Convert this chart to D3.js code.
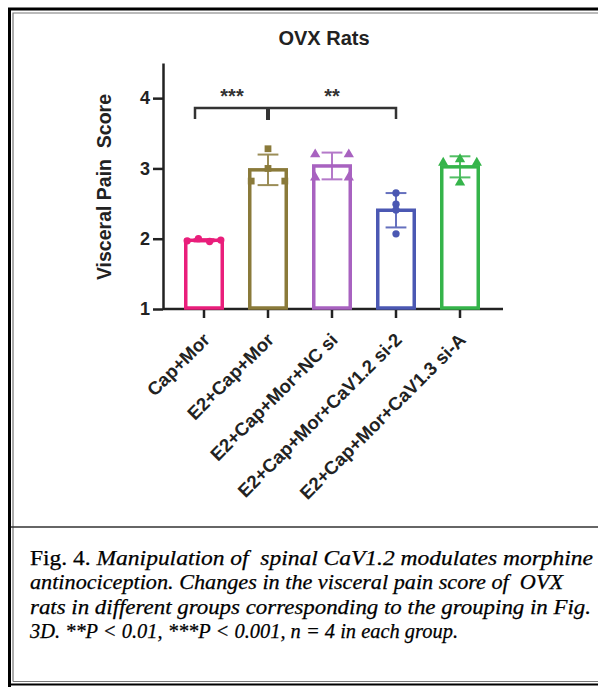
<!DOCTYPE html>
<html>
<head>
<meta charset="utf-8">
<script src="https://cdn.jsdelivr.net/npm/d3@7"></script>
<style>
  body { margin:0; background:#fff; }
  svg text { font-family: "Liberation Sans", Arial, sans-serif; }
  .cap { font-family: "Liberation Serif", "Times New Roman", serif !important; fill:#000; stroke:#000; stroke-width:0.25px; }
</style>
</head>
<body>
<div id="chart"></div>
<script>
// groups and per-animal scores (n = 4)
var groups = ["Cap+Mor","E2+Cap+Mor","E2+Cap+Mor+NC si","E2+Cap+Mor+CaV1.2 si-2","E2+Cap+Mor+CaV1.3 si-A"];
var capMor   = [1.97, 2.00, 1.96, 1.98];
var e2CapMor = [3.28, 3.00, 2.82, 2.82];
var ncSi     = [3.20, 3.20, 2.87, 2.87];
var cav12si  = [2.65, 2.49, 2.41, 2.07];
var cav13si  = [3.08, 3.13, 3.08, 2.80];
var yTicks = [1, 2, 3, 4];
var colors = ["#e91e7b","#8a7a3a","#a862c0","#4b58b3","#35b44a"];
var shapes = ["circle","square","triangle","circle","triangle"];
var sigs = [{from:0, to:1, label:"***"}, {from:1, to:3, label:"**"}];

var allData = [capMor, e2CapMor, ncSi, cav12si, cav13si];

var W = 598, H = 687;
var svg = d3.select('#chart').append('svg')
    .attr('width', W).attr('height', H);

svg.append('rect').attr('width', W).attr('height', H).style('fill', '#fff');

// frame
svg.append('path').attr('d', 'M9.5,687 V9 H598').style('fill','none').style('stroke','#000').style('stroke-width',3);
svg.append('path').attr('d', 'M13,681.5 V13 H598').style('fill','none').style('stroke','#777').style('stroke-width',1.2);
svg.append('line').attr('x1', 8).attr('x2', 598).attr('y1', 684.5).attr('y2', 684.5).style('stroke','#000').style('stroke-width',2);
svg.append('line').attr('x1', 13).attr('x2', 598).attr('y1', 681.5).attr('y2', 681.5).style('stroke','#777').style('stroke-width',1);
svg.append('line').attr('x1', 11).attr('x2', 598).attr('y1', 527).attr('y2', 527).style('stroke','#333').style('stroke-width',1.6);

var axisX0 = 163, axisY0 = 309;
var x = d3.scaleBand().domain(groups).range([172, 492]).paddingInner(0.375).paddingOuter(0.1875);
var y = d3.scaleLinear().domain([1, 4.5]).range([axisY0, 63]);
var bw = x.bandwidth();
function cx(i){ return x(groups[i]) + bw/2; }

// title
svg.append('text').attr('x', 324).attr('y', 45).attr('text-anchor','middle')
    .style('font-weight','bold').style('font-size','20px').style('fill','#222')
    .text('OVX Rats');

// y axis
var yAxis = svg.append('g').attr('transform', 'translate(' + axisX0 + ',0)')
    .call(d3.axisLeft(y).tickValues(yTicks).tickSize(10).tickSizeOuter(0).tickFormat(d3.format('d')));
yAxis.select('.domain').style('stroke','#222').style('stroke-width',2.5);
yAxis.selectAll('.tick line').style('stroke','#222').style('stroke-width',2.5);
yAxis.selectAll('.tick text').attr('x', -13).style('font-size','18px').style('font-weight','bold').style('fill','#222');

svg.append('text')
    .attr('transform', 'translate(111,' + ((y(1)+y(4.5))/2 + 1) + ') rotate(-90)')
    .attr('text-anchor','middle')
    .style('font-weight','bold').style('font-size','19.5px').style('fill','#222')
    .style('white-space','pre')
    .text('Visceral Pain  Score');

// x axis
svg.append('line').attr('x1', axisX0).attr('x2', 503).attr('y1', axisY0).attr('y2', axisY0)
    .style('stroke','#222').style('stroke-width',2.5);
var xAxis = svg.append('g').attr('transform', 'translate(0,' + axisY0 + ')')
    .call(d3.axisBottom(x).tickSize(9).tickSizeOuter(0));
xAxis.select('.domain').remove();
xAxis.selectAll('.tick text')
    .attr('text-anchor','end')
    .attr('transform','translate(7,32) rotate(-45)')
    .attr('x', 0).attr('y', 0).attr('dy', 0)
    .style('font-size','18.5px').style('font-weight','bold').style('fill','#222');
xAxis.selectAll('.tick line').style('stroke','#222').style('stroke-width',2.5);

// bars
var stats = allData.map(function(v){
    return {mean: d3.mean(v), sd: d3.deviation(v)};
});

svg.selectAll('rect.bar').data(stats).enter().append('rect')
    .attr('class','bar')
    .attr('x', function(d,i){ return x(groups[i]) + 1.75; })
    .attr('width', bw - 3.5)
    .attr('y', function(d){ return y(d.mean); })
    .attr('height', function(d){ return axisY0 - y(d.mean) - 1; })
    .style('fill','none')
    .style('stroke', function(d,i){ return colors[i]; })
    .style('stroke-width', 3.5);

// error bars
var capW = bw * 0.26;
stats.forEach(function(d,i){
    var g = svg.append('g').style('stroke', colors[i]).style('stroke-width', 2).style('opacity', 0.85);
    g.append('line').attr('x1', cx(i)).attr('x2', cx(i))
        .attr('y1', y(d.mean + d.sd)).attr('y2', y(d.mean - d.sd));
    [d.mean + d.sd, d.mean - d.sd].forEach(function(v){
        g.append('line').attr('x1', cx(i) - capW).attr('x2', cx(i) + capW)
            .attr('y1', y(v)).attr('y2', y(v));
    });
});

// points: values that nearly tie are spread across the bar
function spread(vals){
    var off = vals.map(function(){ return 0; });
    var used = vals.map(function(){ return false; });
    vals.forEach(function(v, i){
        if(used[i]) return;
        var grp = [];
        vals.forEach(function(w, j){
            if(!used[j] && Math.abs(w - v) < 0.06){ grp.push(j); used[j] = true; }
        });
        if(grp.length > 1){
            grp.forEach(function(j, k){ off[j] = -0.42 + 0.84 * k / (grp.length - 1); });
        }
    });
    return off;
}

allData.forEach(function(vals, i){
    var off = spread(vals);
    var sym = d3.symbol().type(shapes[i] == 'square' ? d3.symbolSquare : shapes[i] == 'triangle' ? d3.symbolTriangle : d3.symbolCircle)
        .size(shapes[i] == 'circle' ? 42 : 46);
    svg.selectAll('path.pt' + i).data(vals).enter().append('path')
        .attr('class', 'pt' + i)
        .attr('d', sym)
        .attr('transform', function(d, k){ return 'translate(' + (cx(i) + off[k] * bw) + ',' + y(d) + ')'; })
        .style('fill', colors[i]);
});

// significance bracket
var brY = y(3.86), brDrop = 11;
var brLeft = cx(sigs[0].from) - 9, brRight = cx(sigs[1].to), brMid = cx(sigs[0].to);
svg.append('path')
    .attr('d', 'M' + brLeft + ',' + (brY + brDrop) + ' V' + brY + ' H' + brRight + ' V' + (brY + brDrop))
    .style('fill','none').style('stroke','#333').style('stroke-width',2.5);
svg.append('line').attr('x1', brMid).attr('x2', brMid).attr('y1', brY).attr('y2', brY + brDrop + 1)
    .style('stroke','#333').style('stroke-width',4);
sigs.forEach(function(s){
    svg.append('text')
        .attr('x', (Math.max(brLeft, cx(s.from)) + cx(s.to)) / 2 - (s.from == 0 ? 4 : 0))
        .attr('y', brY - 5)
        .attr('text-anchor','middle')
        .style('font-size','20px').style('font-weight','bold').style('fill','#333')
        .text(s.label);
});

// caption
var capLines = [
    {y: 565, w: 563, parts: [["Fig. 4. ", false], ["Manipulation of  spinal CaV1.2 modulates morphine", true]]},
    {y: 589, w: 533, parts: [["antinociception. Changes in the visceral pain score of  OVX", true]]},
    {y: 614, w: 561, parts: [["rats in different groups corresponding to the grouping in Fig.", true]]},
    {y: 638, w: 428, parts: [["3D. **P < 0.01, ***P < 0.001, n = 4 in each group.", true]]}
];
capLines.forEach(function(l){
    var t = svg.append('text').attr('class','cap')
        .attr('x', 30).attr('y', l.y)
        .attr('textLength', l.w).attr('lengthAdjust','spacingAndGlyphs')
        .style('font-size','20.5px').style('white-space','pre');
    l.parts.forEach(function(p){
        t.append('tspan').style('font-style', p[1] ? 'italic' : 'normal').text(p[0]);
    });
});
</script>
</body>
</html>
